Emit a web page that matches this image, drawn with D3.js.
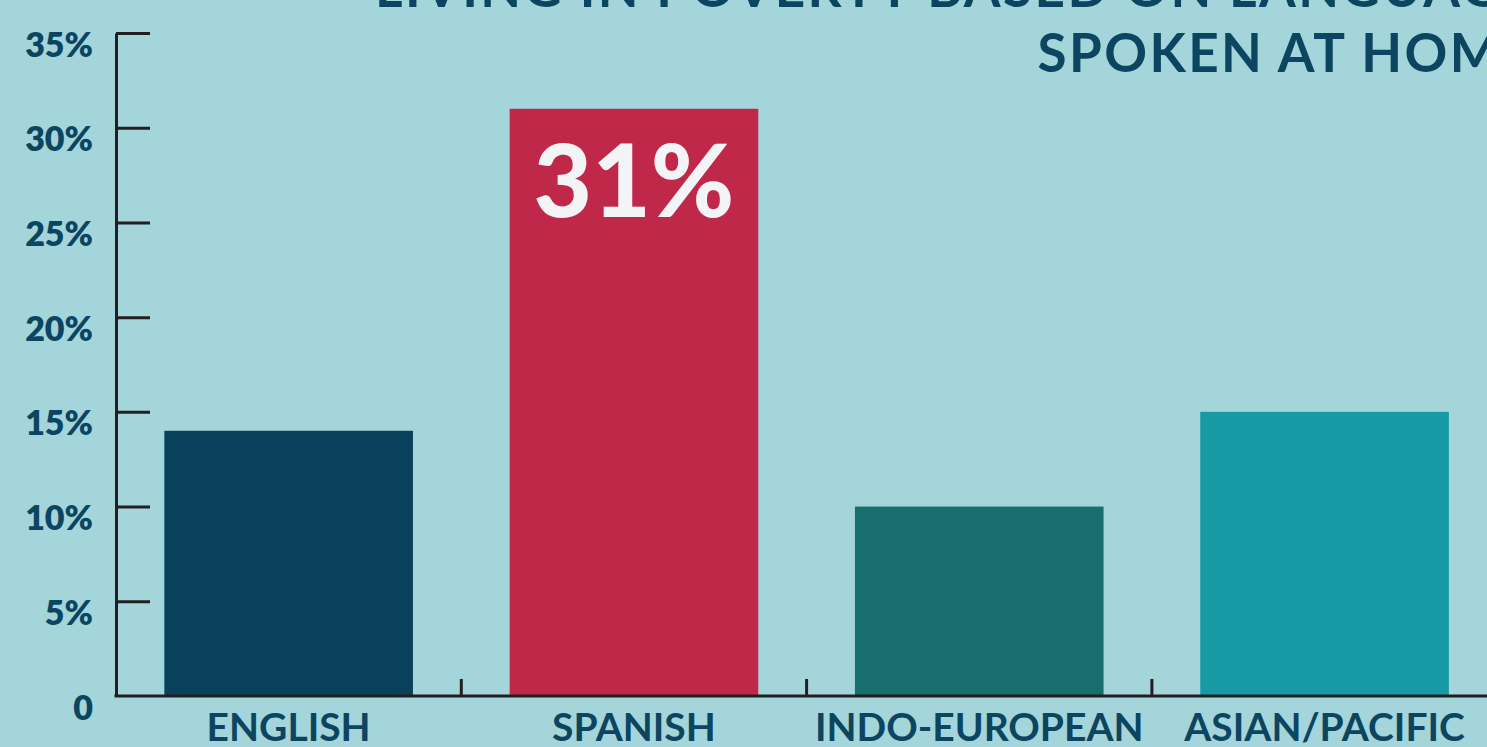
<!DOCTYPE html>
<html>
<head>
<meta charset="utf-8">
<script src="https://cdn.jsdelivr.net/npm/d3@7"></script>
<style>
	html, body { margin: 0; padding: 0; background: #a3d5db; overflow: hidden; }
	svg { display: block; font-family: Lato, "Open Sans", sans-serif; }
</style>
</head>
<body>
<svg id="chart" width="1487" height="747"></svg>
<script>
const TITLE_LINES = ["LIVING IN POVERTY BASED ON LANGUAGE", "SPOKEN AT HOME"];
const CATEGORIES = ["ENGLISH", "SPANISH", "INDO-EUROPEAN", "ASIAN/PACIFIC"];
const VALUES = [14, 31, 10, 15];
const BAR_COLORS = ["#0a415a", "#c0284a", "#176e6d", "#189aa4"];
const Y_TICKS = [0, 5, 10, 15, 20, 25, 30, 35];
const HIGHLIGHT = "SPANISH";

const TEXT_COLOR = "#0b4560";
const AXIS_COLOR = "#231f20";

const svg = d3.select("#chart");
const width = +svg.attr("width");
const height = +svg.attr("height");

const margin = { top: 33, left: 116, bottom: 51 };

const x = d3.scaleBand()
	.domain(CATEGORIES)
	.range([margin.left, margin.left + 4 * 345.3])
	.paddingInner(0.28)
	.paddingOuter(0.14);

const y = d3.scaleLinear()
	.domain([0, 35])
	.range([height - margin.bottom, margin.top]);

// title, right aligned and running off the top/right edge
svg.append("g")
	.selectAll("text")
	.data(TITLE_LINES)
	.join("text")
	.attr("x", 1535)
	.attr("y", (d, i) => 7 + i * 65)
	.attr("text-anchor", "end")
	.attr("fill", TEXT_COLOR)
	.attr("font-size", 53)
	.attr("font-weight", 700)
	.attr("letter-spacing", 2.4)
	.text(d => d);

// bars
svg.append("g")
	.selectAll("rect")
	.data(CATEGORIES)
	.join("rect")
	.attr("x", d => x(d))
	.attr("width", x.bandwidth())
	.attr("y", (d, i) => y(VALUES[i]))
	.attr("height", (d, i) => y(0) - y(VALUES[i]))
	.attr("fill", (d, i) => BAR_COLORS[i]);

// value label on highlighted bar
const hi = CATEGORIES.indexOf(HIGHLIGHT);
svg.append("text")
	.attr("x", x(HIGHLIGHT) + x.bandwidth() / 2)
	.attr("y", y(VALUES[hi]) + 108)
	.attr("text-anchor", "middle")
	.attr("fill", "#f3f4f6")
	.attr("font-size", 101)
	.attr("font-weight", 900)
	.text(VALUES[hi] + "%");

// y axis
const yAxis = svg.append("g")
	.attr("transform", `translate(${margin.left},0)`)
	.call(d3.axisLeft(y)
		.tickValues(Y_TICKS)
		.tickSizeInner(-34)
		.tickSizeOuter(0)
		.tickPadding(23)
		.tickFormat(d => d === 0 ? "0" : d + "%"));

yAxis.select(".domain").attr("stroke", AXIS_COLOR).attr("stroke-width", 3);
yAxis.selectAll(".tick line")
	.attr("stroke", AXIS_COLOR)
	.attr("stroke-width", 3)
	.filter(d => d === 0).remove();
yAxis.selectAll(".tick text")
	.attr("dy", 23)
	.attr("fill", TEXT_COLOR)
	.attr("font-size", 34)
	.attr("font-weight", 800)
	.attr("font-family", "Lato, sans-serif");

// x axis
const xAxis = svg.append("g")
	.attr("transform", `translate(0,${y(0)})`);

xAxis.append("line")
	.attr("x1", margin.left - 1.5)
	.attr("x2", width)
	.attr("stroke", AXIS_COLOR)
	.attr("stroke-width", 3);

xAxis.selectAll(".sep")
	.data(CATEGORIES.slice(1))
	.join("line")
	.attr("class", "sep")
	.attr("x1", d => x(d) - x.step() * x.paddingInner() / 2)
	.attr("x2", d => x(d) - x.step() * x.paddingInner() / 2)
	.attr("y1", 0)
	.attr("y2", -17)
	.attr("stroke", AXIS_COLOR)
	.attr("stroke-width", 3);

xAxis.selectAll(".cat")
	.data(CATEGORIES)
	.join("text")
	.attr("class", "cat")
	.attr("x", d => x(d) + x.bandwidth() / 2)
	.attr("y", 45)
	.attr("text-anchor", "middle")
	.attr("fill", TEXT_COLOR)
	.attr("font-size", 39)
	.attr("font-weight", 700)
	.text(d => d);
</script>
</body>
</html>
